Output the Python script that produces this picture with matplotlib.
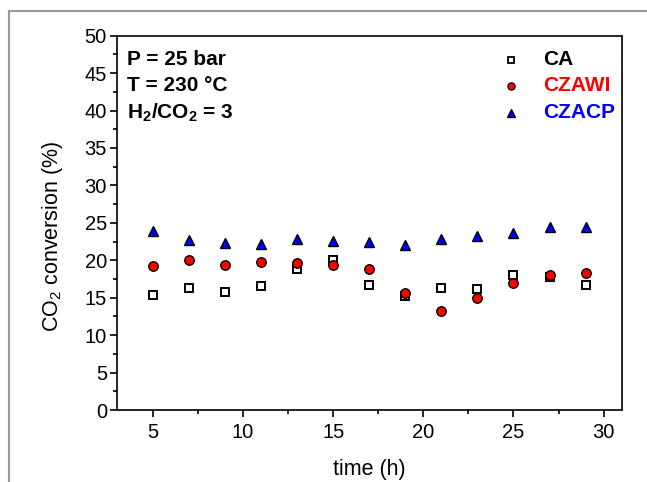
import matplotlib
matplotlib.use("Agg")
import matplotlib.pyplot as plt
from matplotlib.lines import Line2D

plt.rcParams['font.family'] = ['Liberation Sans', 'DejaVu Sans']
plt.rcParams['mathtext.fontset'] = 'custom'
plt.rcParams['mathtext.rm'] = 'Liberation Sans'
plt.rcParams['mathtext.bf'] = 'Liberation Sans:bold'

time_h = [5, 7, 9, 11, 13, 15, 17, 19, 21, 23, 25, 27, 29]
ca = [15.4, 16.3, 15.8, 16.5, 18.9, 20.0, 16.7, 15.2, 16.3, 16.2, 18.1, 17.7, 16.7]
czawi = [19.3, 20.0, 19.4, 19.8, 19.6, 19.4, 18.8, 15.6, 13.2, 14.9, 17.0, 18.1, 18.3]
czacp = [23.9, 22.7, 22.3, 22.2, 22.8, 22.6, 22.4, 22.1, 22.9, 23.2, 23.6, 24.5, 24.4]
series_names = ['CA', 'CZAWI', 'CZACP']
series_colors = ['black', 'red', 'blue']
conditions = ['P = 25 bar', 'T = 230 °C', r'H$_\mathbf{2}$/CO$_\mathbf{2}$ = 3']

W, H = 647, 482
fig = plt.figure(figsize=(6.47, 4.82), dpi=100)
ax = fig.add_axes([116.7 / W, 1 - 410 / H, (621.7 - 116.7) / W, (410 - 35.7) / H])

styles = [
    dict(marker='s', ms=5.8, mfc='white', mec='black', mew=1.4),
    dict(marker='o', ms=6.8, mfc='red', mec='black', mew=1.0),
    dict(marker='^', ms=7.8, mfc='blue', mec='black', mew=1.0),
]
ax.plot(time_h, ca, linestyle='none', zorder=3, **styles[0])
ax.plot(time_h, czawi, linestyle='none', zorder=4, **styles[1])
ax.plot(time_h, czacp, linestyle='none', zorder=4, **styles[2])

ax.set_xlim(3, 31)
ax.set_ylim(0, 50)
ax.set_xticks([5, 10, 15, 20, 25, 30])
ax.set_xticks([7.5, 12.5, 17.5, 22.5, 27.5], minor=True)
ax.set_yticks(range(0, 51, 5))
ax.set_yticks([2.5 + 5 * i for i in range(10)], minor=True)
ax.tick_params(axis='both', which='major', direction='out', length=5, width=1.2, labelsize=14.5, pad=2)
ax.tick_params(axis='x', which='major', pad=4)
ax.tick_params(axis='both', which='minor', direction='out', length=3, width=1.2)
for s in ax.spines.values():
    s.set_linewidth(1.2)

ax.set_xlabel('time (h)', fontsize=15.5)
ax.set_ylabel('CO$_2$ conversion (%)', fontsize=15.5)
ax.xaxis.set_label_coords(0.5, -0.132)
ax.yaxis.set_label_coords(-0.102, 0.465)

# conditions text
rows_y = [59.5, 85.5, 112.5]
for t, y in zip(conditions, rows_y):
    fig.text(127 / W, 1 - y / H, t, fontsize=15, fontweight='bold', va='center', ha='left')

# legend (manual placement)
leg_styles = [
    dict(marker='s', ms=4.0, mfc='white', mec='black', mew=1.3),
    dict(marker='o', ms=5.2, mfc='red', mec='black', mew=0.9),
    dict(marker='^', ms=6.0, mfc='blue', mec='black', mew=0.9),
]
for name, col, st, y in zip(series_names, series_colors, leg_styles, rows_y):
    fig.add_artist(Line2D([511 / W], [1 - y / H], linestyle='none', transform=fig.transFigure, **st))
    fig.text(543 / W, 1 - y / H, name, color=col, fontsize=15, fontweight='bold', va='center', ha='left')

# outer gray frame
fig.add_artist(Line2D([9.3 / W, 1], [1 - 10.7 / H, 1 - 10.7 / H], color='#999999', lw=1.5, transform=fig.transFigure))
fig.add_artist(Line2D([9.3 / W, 9.3 / W], [0, 1 - 10.7 / H], color='#999999', lw=1.5, transform=fig.transFigure))

fig.savefig('out.png', dpi=100)
